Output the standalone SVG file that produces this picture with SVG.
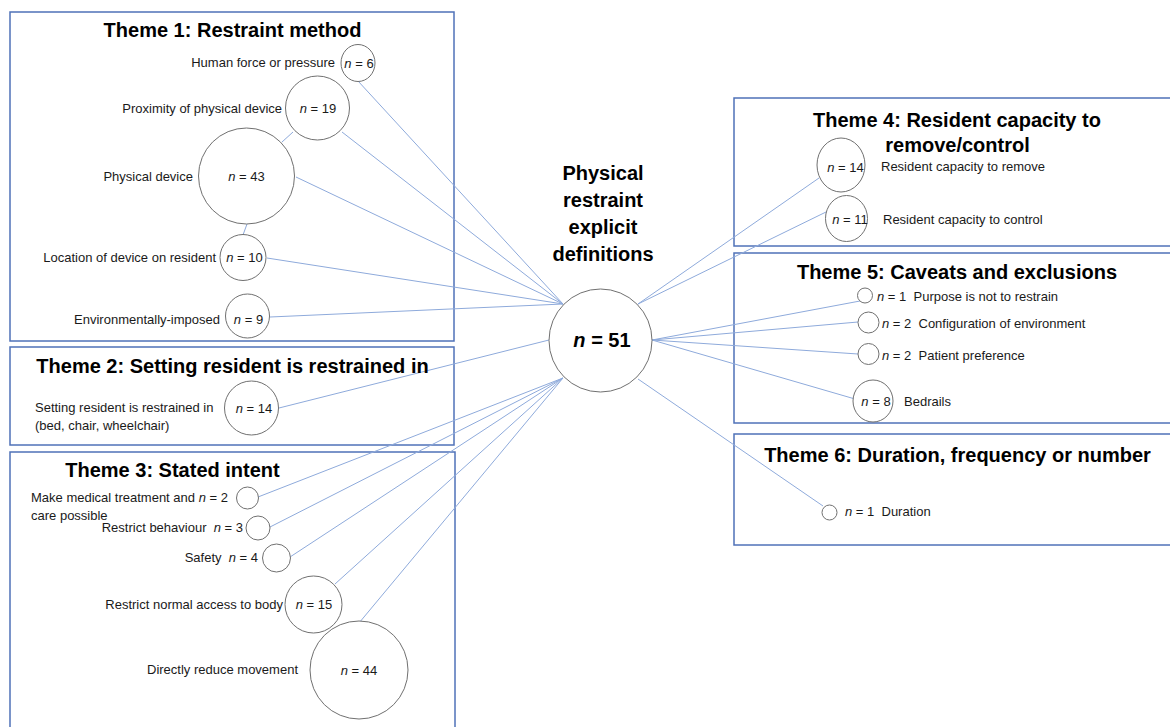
<svg xmlns="http://www.w3.org/2000/svg" width="1170" height="727" viewBox="0 0 1170 727">
<style>
.box{fill:none;stroke:#4f72b8;stroke-width:1.5}
.nd{fill:#fff;stroke:#707070;stroke-width:1}
.ln{stroke:#8eaadb;stroke-width:1;fill:none}
.t{font-family:"Liberation Sans",Arial,sans-serif;font-size:20px;font-weight:bold;fill:#000;text-anchor:middle}
.l{font-family:"Liberation Sans",Arial,sans-serif;font-size:13px;fill:#1a1a1a}
.r{text-anchor:end}
.m{text-anchor:middle}
.i{font-style:italic}
</style>
<rect width="1170" height="727" fill="#fff"/>
<g id="boxes">
<rect class="box" x="10" y="12" width="444" height="329"/>
<rect class="box" x="10" y="347" width="444" height="98"/>
<rect class="box" x="10" y="452" width="445" height="290"/>
<rect class="box" x="734" y="98" width="450" height="148"/>
<rect class="box" x="734" y="253" width="450" height="170"/>
<rect class="box" x="734" y="434" width="450" height="111"/>
</g>
<g id="connectors">
<line class="ln" x1="358" y1="81" x2="563" y2="304"/>
<line class="ln" x1="342" y1="132" x2="563" y2="304"/>
<line class="ln" x1="296" y1="177" x2="563" y2="304"/>
<line class="ln" x1="267" y1="258" x2="563" y2="304"/>
<line class="ln" x1="270" y1="317" x2="563" y2="304"/>
<line class="ln" x1="293" y1="132" x2="282" y2="142"/>
<line class="ln" x1="247" y1="224" x2="243" y2="235"/>
<line class="ln" x1="279" y1="408" x2="549" y2="340"/>
<line class="ln" x1="258" y1="497" x2="563" y2="378"/>
<line class="ln" x1="270" y1="527" x2="563" y2="378"/>
<line class="ln" x1="290" y1="557" x2="563" y2="378"/>
<line class="ln" x1="335" y1="584" x2="563" y2="378"/>
<line class="ln" x1="359" y1="623" x2="563" y2="378"/>
<line class="ln" x1="638" y1="304" x2="819" y2="178"/>
<line class="ln" x1="638" y1="304" x2="826" y2="212"/>
<line class="ln" x1="652" y1="340" x2="860" y2="301"/>
<line class="ln" x1="652" y1="340" x2="858" y2="322"/>
<line class="ln" x1="652" y1="340" x2="858" y2="354"/>
<line class="ln" x1="652" y1="340" x2="855" y2="399"/>
<line class="ln" x1="638" y1="379" x2="823" y2="506"/>
</g>
<g id="titles">
<text class="t" x="232.5" y="37">Theme 1: Restraint method</text>
<text class="t" x="232.5" y="373">Theme 2: Setting resident is restrained in</text>
<text class="t" x="172.5" y="477">Theme 3: Stated intent</text>
<text class="t" x="957" y="127">Theme 4: Resident capacity to</text>
<text class="t" x="957.5" y="152">remove/control</text>
<text class="t" x="957" y="279">Theme 5: Caveats and exclusions</text>
<text class="t" x="957.5" y="462">Theme 6: Duration, frequency or number</text>
</g>
<g id="center">
<circle class="nd" cx="600.5" cy="340.5" r="51.5"/>
<text class="t" x="603" y="180">Physical</text>
<text class="t" x="603" y="207">restraint</text>
<text class="t" x="603" y="234">explicit</text>
<text class="t" x="603" y="261">definitions</text>
<text class="t" x="602" y="347"><tspan class="i">n</tspan> = 51</text>
</g>
<g id="t1-human">
<ellipse class="nd" cx="358" cy="63" rx="17" ry="18.5"/>
<text class="l r" x="335" y="67">Human force or pressure</text>
<text class="l m" x="359" y="67.5"><tspan class="i">n</tspan> = 6</text>
</g>
<g id="t1-proximity">
<circle class="nd" cx="317.5" cy="108" r="32"/>
<text class="l r" x="282" y="112.5">Proximity of physical device</text>
<text class="l m" x="318" y="112.5"><tspan class="i">n</tspan> = 19</text>
</g>
<g id="t1-device">
<circle class="nd" cx="246.5" cy="176" r="48"/>
<text class="l r" x="193" y="181">Physical device</text>
<text class="l m" x="246.5" y="181"><tspan class="i">n</tspan> = 43</text>
</g>
<g id="t1-location">
<circle class="nd" cx="243" cy="257.5" r="23"/>
<text class="l r" x="216" y="262">Location of device on resident</text>
<text class="l m" x="244.5" y="262"><tspan class="i">n</tspan> = 10</text>
</g>
<g id="t1-env">
<circle class="nd" cx="247.5" cy="316" r="22"/>
<text class="l r" x="220" y="324">Environmentally-imposed</text>
<text class="l m" x="248.5" y="324"><tspan class="i">n</tspan> = 9</text>
</g>
<g id="t2-setting">
<circle class="nd" cx="251.5" cy="408" r="27"/>
<text class="l" x="35" y="412">Setting resident is restrained in</text>
<text class="l" x="35" y="430">(bed, chair, wheelchair)</text>
<text class="l m" x="254" y="412.5"><tspan class="i">n</tspan> = 14</text>
</g>
<g id="t3-medical">
<circle class="nd" cx="247.5" cy="498" r="11"/>
<text class="l" x="31" y="502">Make medical treatment and <tspan class="i">n</tspan> = 2</text>
<text class="l" x="31" y="520">care possible</text>
</g>
<g id="t3-behaviour">
<circle class="nd" cx="258" cy="528" r="12"/>
<text class="l r" x="243" y="532" xml:space="preserve">Restrict behaviour  <tspan class="i">n</tspan> = 3</text>
</g>
<g id="t3-safety">
<circle class="nd" cx="276.5" cy="558" r="14"/>
<text class="l r" x="258" y="562" xml:space="preserve">Safety  <tspan class="i">n</tspan> = 4</text>
</g>
<g id="t3-access">
<circle class="nd" cx="313.5" cy="604.5" r="28.5"/>
<text class="l r" x="283" y="609">Restrict normal access to body</text>
<text class="l m" x="314" y="609"><tspan class="i">n</tspan> = 15</text>
</g>
<g id="t3-movement">
<circle class="nd" cx="359" cy="670" r="49"/>
<text class="l r" x="298" y="674">Directly reduce movement</text>
<text class="l m" x="359" y="674.5"><tspan class="i">n</tspan> = 44</text>
</g>
<g id="t4-remove">
<ellipse class="nd" cx="841" cy="165" rx="24" ry="27"/>
<text class="l m" x="845.5" y="171.5"><tspan class="i">n</tspan> = 14</text>
<text class="l" x="881" y="171">Resident capacity to remove</text>
</g>
<g id="t4-control">
<ellipse class="nd" cx="846.5" cy="218.5" rx="21" ry="23"/>
<text class="l m" x="850" y="224"><tspan class="i">n</tspan> = 11</text>
<text class="l" x="883" y="224">Resident capacity to control</text>
</g>
<g id="t5-purpose">
<circle class="nd" cx="865" cy="295.5" r="7.5"/>
<text class="l" x="877" y="300.5" xml:space="preserve"><tspan class="i">n</tspan> = 1  Purpose is not to restrain</text>
</g>
<g id="t5-config">
<circle class="nd" cx="868.5" cy="322.5" r="10.5"/>
<text class="l" x="882" y="327.5" xml:space="preserve"><tspan class="i">n</tspan> = 2  Configuration of environment</text>
</g>
<g id="t5-patient">
<circle class="nd" cx="868.5" cy="354" r="10.5"/>
<text class="l" x="882" y="359.5" xml:space="preserve"><tspan class="i">n</tspan> = 2  Patient preference</text>
</g>
<g id="t5-bedrails">
<ellipse class="nd" cx="873" cy="401" rx="20" ry="21"/>
<text class="l m" x="876" y="405.5"><tspan class="i">n</tspan> = 8</text>
<text class="l" x="904" y="405.5">Bedrails</text>
</g>
<g id="t6-duration">
<circle class="nd" cx="829.5" cy="512.5" r="7.5"/>
<text class="l" x="845" y="515.5" xml:space="preserve"><tspan class="i">n</tspan> = 1  Duration</text>
</g>
</svg>
